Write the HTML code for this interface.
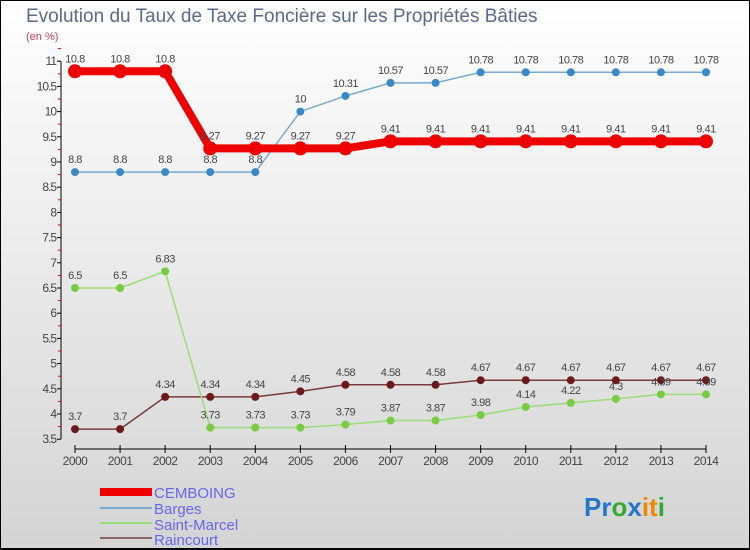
<!DOCTYPE html>
<html><head><meta charset="utf-8"><style>
body{margin:0}
#c{width:750px;height:550px;position:relative;box-sizing:border-box;border:1px solid #000;border-bottom:2px solid #000;background:linear-gradient(#ffffff,#d4d4d4);font-family:"Liberation Sans",sans-serif;overflow:hidden}
</style></head><body>
<div id="c">
<svg width="750" height="550" style="position:absolute;left:-1px;top:-1px" id="svg">
<text x="26" y="22" font-size="19" fill="#5a6a8a">Evolution du Taux de Taxe Foncière sur les Propriétés Bâties</text>
<text x="26" y="40" font-size="11" fill="#c04060">(en %)</text>
<g id="axes"></g><g id="series"></g>
<g>
<rect x="100" y="488" width="52" height="8" fill="#e00"/>
<text x="154" y="498" font-size="15" fill="#6666ee">CEMBOING</text>
<rect x="100" y="507" width="52" height="2" fill="#7aaad0"/>
<text x="154" y="514" font-size="15" fill="#6666ee">Barges</text>
<rect x="100" y="522" width="52" height="2" fill="#99dd77"/>
<text x="154" y="530" font-size="15" fill="#6666ee">Saint-Marcel</text>
<rect x="100" y="537" width="52" height="2" fill="#886666"/>
<text x="154" y="545" font-size="15" fill="#6666ee">Raincourt</text>
</g>
<text x="584" y="516" font-size="26" font-weight="bold"><tspan fill="#2277cc">Pr</tspan><tspan fill="#33aa33">o</tspan><tspan fill="#2277cc">x</tspan><tspan fill="#ee8800">it</tspan><tspan fill="#33aa33">i</tspan></text>
</svg>
</div>
<script>
const years=["2000","2001","2002","2003","2004","2005","2006","2007","2008","2009","2010","2011","2012","2013","2014"];
const cemboing=[10.8,10.8,10.8,9.27,9.27,9.27,9.27,9.41,9.41,9.41,9.41,9.41,9.41,9.41,9.41];
const barges=[8.8,8.8,8.8,8.8,8.8,10,10.31,10.57,10.57,10.78,10.78,10.78,10.78,10.78,10.78];
const saintMarcel=[6.5,6.5,6.83,3.73,3.73,3.73,3.79,3.87,3.87,3.98,4.14,4.22,4.3,4.39,4.39];
const raincourt=[3.7,3.7,4.34,4.34,4.34,4.45,4.58,4.58,4.58,4.67,4.67,4.67,4.67,4.67,4.67];
const yTicks=[3.5,4,4.5,5,5.5,6,6.5,7,7.5,8,8.5,9,9.5,10,10.5,11];
const NS="http://www.w3.org/2000/svg";
const X=i=>75+i*(631/14);
const Y=v=>288-(v-6.5)*50.4;
function mk(t,a,p){const e=document.createElementNS(NS,t);for(const k in a)e.setAttribute(k,a[k]);p.appendChild(e);return e;}
const ax=document.getElementById('axes');
const yl=mk('line',{x1:61,x2:61,y1:Y(11),y2:Y(3.5),stroke:'#000'},ax);


yTicks.forEach(v=>{
  mk('line',{x1:57,x2:61,y1:Y(v),y2:Y(v),stroke:'#000'},ax);
  mk('line',{x1:58,x2:61,y1:Y(v+0.25),y2:Y(v+0.25),stroke:'#e00'},ax);
  const t=mk('text',{x:56,y:Y(v)+4,'font-size':12,fill:'#444','text-anchor':'end','letter-spacing':'-1'},ax);
  t.textContent=String(v);
  
  
});
const xl=mk('line',{x1:X(0),x2:X(14),y1:449,y2:449,stroke:'#000'},ax);


years.forEach((y,i)=>{
  mk('line',{x1:X(i),x2:X(i),y1:445,y2:453,stroke:'#000'},ax);
  const t=mk('text',{x:X(i),y:465,'font-size':12,fill:'#444','text-anchor':'middle','letter-spacing':'-0.5'},ax);
  t.textContent=y;
  
  
});
const sg=document.getElementById('series');
function draw(name,data,line,dot,w,r){
  const g=mk('g',{},sg);
  
  
  mk('polyline',{points:data.map((v,i)=>X(i)+','+Y(v)).join(' '),fill:'none',stroke:line,'stroke-width':w},g);
  data.forEach((v,i)=>{
    const c=mk('circle',{cx:X(i),cy:Y(v),r:r,fill:dot},g);
    
    
    const t=mk('text',{x:X(i),y:Y(v)-9,'font-size':11,fill:'#444','text-anchor':'middle','letter-spacing':'-0.5'},g);
    t.textContent=String(v);
    
    
  });
}
draw('raincourt',raincourt,'#7a3a3a','#6a1a1a',1.5,4);
draw('saint-marcel',saintMarcel,'#99dd77','#77cc44',1.5,4);
draw('barges',barges,'#7aaad0','#3a88c8',1.5,4);
draw('cemboing',cemboing,'#ee0000','#ee0000',8,7);
</script>
</body></html>
